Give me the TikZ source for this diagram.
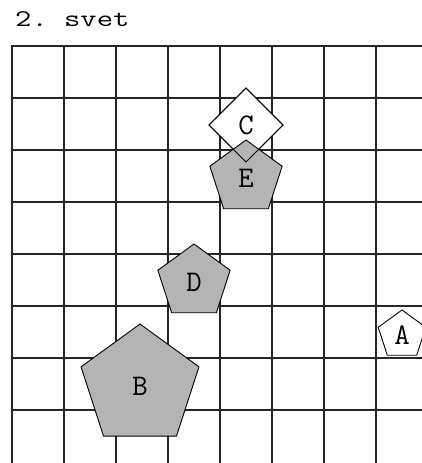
\documentclass[tikz,border=0pt]{standalone}
\usepackage{fontspec}
\usepackage{graphicx}
\usetikzlibrary{shapes.geometric}
\definecolor{shapegray}{RGB}{180,180,180}
\tikzset{
  gridline/.style={draw=black!85, line width=1.6pt, line cap=rect},
  shapeline/.style={draw=black, line width=0.9pt, inner sep=0pt, outer sep=0pt,
    font=\fontsize{30}{30}\selectfont\ttfamily},
  grayshape/.style={shapeline, fill=shapegray},
  whiteshape/.style={shapeline, fill=white},
  pentagon/.style={regular polygon, regular polygon sides=5}
}
\begin{document}
\begin{tikzpicture}[x=1pt, y=-1pt]
    \useasboundingbox (0,0) rectangle (422,463);
    % title
    \node[anchor=base west, inner sep=0pt] (title) at (15,27)
      {\scalebox{1.32}[1]{\fontsize{24}{24}\selectfont\ttfamily 2.\ svet}};
    % grid
    \foreach \gx in {12,64,...,376} \draw[gridline] (\gx,46) -- (\gx,463);
    \foreach \gy in {46,98,...,410} \draw[gridline] (12,\gy) -- (422,\gy);
    % shapes
    \node[diamond, whiteshape, minimum size=74] (C) at (246,125) {C};
    \node[pentagon, grayshape, minimum size=76] (E) at (246,178) {E};
    \draw[shapeline] (C.north) -- (C.east) -- (C.south) -- (C.west) -- cycle;
    \node[pentagon, grayshape, minimum size=76] (D) at (194,282) {D};
    \node[pentagon, grayshape, minimum size=124] (B) at (140,386) {B};
    \node[pentagon, whiteshape, minimum size=50] (A) at (402,335) {A};
  \end{tikzpicture}
\end{document}
